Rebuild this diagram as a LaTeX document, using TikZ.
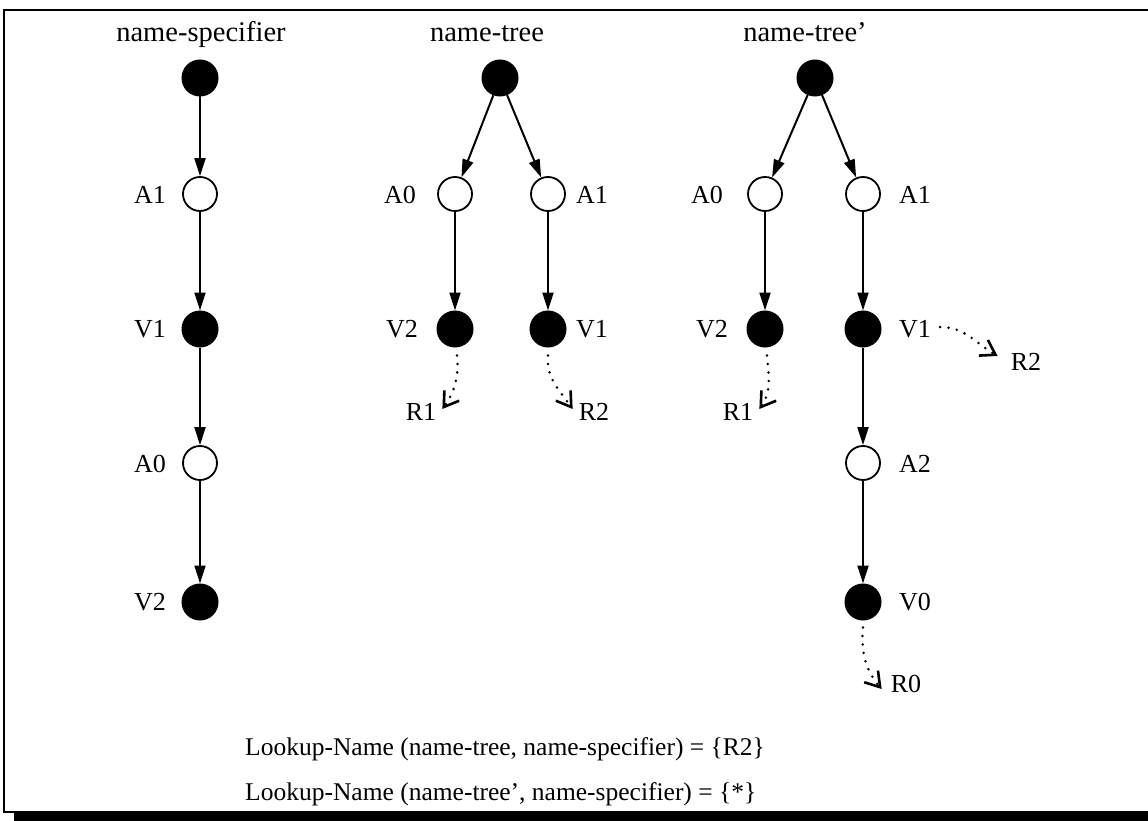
\documentclass[tikz,border=0pt]{standalone}
\usepackage{fontspec}
\setmainfont{Liberation Serif}
\usetikzlibrary{arrows.meta}
\begin{document}
\begin{tikzpicture}[x=1pt,y=-1pt,
  fulldot/.style={circle,fill=black,draw=black,line width=1pt,minimum size=36pt,inner sep=0pt},
  opendot/.style={circle,fill=white,draw=black,line width=1.8pt,minimum size=34pt,inner sep=0pt},
  lbl/.style={font=\fontsize{26}{30}\selectfont,inner sep=1pt},
  head/.style={font=\fontsize{28.5}{33}\selectfont,inner sep=0pt,anchor=base},
  formula/.style={font=\fontsize{25.5}{30}\selectfont,inner sep=0pt,anchor=base west},
  arc/.style={line width=2pt,-{Triangle[length=18pt,width=11pt]}},
  refarrow/.style={line width=2.8pt,line cap=round,dash pattern=on 0pt off 8.5pt,
    -{Straight Barb[length=14pt,width=18pt,line width=2.6pt]}},
]
\useasboundingbox (0,0) rectangle (1148,821);

% frame
\draw[line width=1.8pt] (1148,10) -- (4,10) -- (4,812) -- (14,812);
\fill (14,811) rectangle (1148,821);

% headers
\node[head] (h1) at (201,42) {name-specifier};
\node[head] (h2) at (487,42) {name-tree};
\node[head] (h3) at (805,42) {name-tree’};

% name-specifier
\node[fulldot] (s0) at (200,78) {};
\node[opendot] (sa1) at (200,194) {};
\node[fulldot] (sv1) at (200,329) {};
\node[opendot] (sa0) at (200,463) {};
\node[fulldot] (sv2) at (200,602) {};
\node[lbl] (lsa1) at (150,195) {A1};
\node[lbl] (lsv1) at (150,329) {V1};
\node[lbl] (lsa0) at (150,464) {A0};
\node[lbl] (lsv2) at (150,602) {V2};
\draw[arc] (s0) -- (sa1);
\draw[arc] (sa1) -- (sv1);
\draw[arc] (sv1) -- (sa0);
\draw[arc] (sa0) -- (sv2);

% name-tree
\node[fulldot] (t0) at (500,78) {};
\node[opendot] (ta0) at (455,194) {};
\node[opendot] (ta1) at (548,194) {};
\node[fulldot] (tv2) at (455,329) {};
\node[fulldot] (tv1) at (548,329) {};
\node[lbl] (lta0) at (400,195) {A0};
\node[lbl] (lta1) at (592,195) {A1};
\node[lbl] (ltv2) at (402,329) {V2};
\node[lbl] (ltv1) at (592,329) {V1};
\node[lbl] (tr1) at (421,412) {R1};
\node[lbl] (tr2) at (594,412) {R2};
\draw[refarrow] ([shift={(2,8)}]tv2.south) to[out=-85,in=55] ([shift={(5,-3)}]tr1.east);
\draw[refarrow] ([shift={(0,8)}]tv1.south) to[out=-95,in=125] ([shift={(-5,-3)}]tr2.west);
\draw[arc] (t0) -- (ta0);
\draw[arc] (t0) -- (ta1);
\draw[arc] (ta0) -- (tv2);
\draw[arc] (ta1) -- (tv1);

% name-tree'
\node[fulldot] (u0) at (815,78) {};
\node[opendot] (ua0) at (765,194) {};
\node[opendot] (ua1) at (863,194) {};
\node[fulldot] (uv2) at (765,329) {};
\node[fulldot] (uv1) at (863,329) {};
\node[opendot] (ua2) at (863,463) {};
\node[fulldot] (uv0) at (863,602) {};
\node[lbl] (lua0) at (707,195) {A0};
\node[lbl] (lua1) at (915,195) {A1};
\node[lbl] (luv2) at (712,329) {V2};
\node[lbl] (luv1) at (915,329) {V1};
\node[lbl] (lua2) at (915,464) {A2};
\node[lbl] (luv0) at (915,602) {V0};
\node[lbl] (ur1) at (738,412) {R1};
\node[lbl] (ur2) at (1026,362) {R2};
\node[lbl] (ur0) at (906,684) {R0};
\draw[arc] (u0) -- (ua0);
\draw[arc] (u0) -- (ua1);
\draw[arc] (ua0) -- (uv2);
\draw[arc] (ua1) -- (uv1);
\draw[arc] (uv1) -- (ua2);
\draw[arc] (ua2) -- (uv0);
\draw[refarrow] ([shift={(2,8)}]uv2.south) to[out=-85,in=55] ([shift={(5,-3)}]ur1.east);
\draw[refarrow] ([shift={(8,-2)}]luv1.east) to[out=0,in=150] ([shift={(-12,-6)}]ur2.west);
\draw[refarrow] ([shift={(0,7)}]uv0.south) to[out=-95,in=130] ([shift={(-8,5)}]ur0.west);

% lookup results
\node[formula] (f1) at (245,755) {Lookup-Name (name-tree, name-specifier) = \{R2\}};
\node[formula] (f2) at (245,800) {Lookup-Name (name-tree’, name-specifier) = \{*\}};
\end{tikzpicture}
\end{document}
